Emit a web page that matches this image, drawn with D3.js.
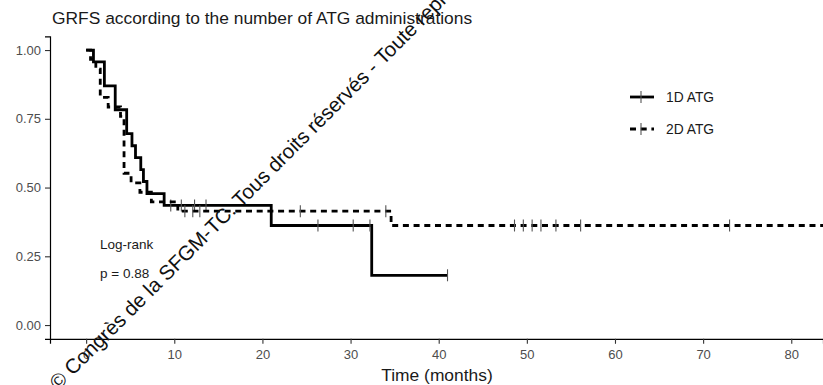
<!DOCTYPE html>
<html>
<head>
<meta charset="utf-8">
<script src="https://cdnjs.cloudflare.com/ajax/libs/d3/7.8.5/d3.min.js"></script>
<style>
  body { margin: 0; background: #fff; }
  svg text { font-family: "Liberation Sans", Arial, sans-serif; }
</style>
</head>
<body>
<div id="grafico"></div>
<script>
// values
const grupos = ["1D ATG", "2D ATG"];

const tiempo1D = [0, 0.83, 2.07, 3.3, 4.6, 5.2, 5.6, 6.2, 6.5, 6.9, 8.85, 21.0, 32.4, 41.0];
const surv1D   = [1, 0.957, 0.870, 0.783, 0.696, 0.652, 0.609, 0.565, 0.522, 0.478, 0.435, 0.362, 0.181, 0.181];
const censura1D = [9.6, 10.8, 12.3, 13.6, 26.3, 30.3, 32.2, 41.0];

const tiempo2D = [0, 0.5, 1.1, 1.6, 2.5, 3.9, 4.3, 5.1, 6.1, 7.4, 10.4, 34.6, 86];
const surv2D   = [1, 0.966, 0.931, 0.828, 0.793, 0.759, 0.552, 0.517, 0.483, 0.448, 0.414, 0.362, 0.362];
const censura2D = [11.2, 12.1, 12.9, 24.3, 34.0, 48.6, 49.6, 50.6, 51.6, 53.3, 56.1, 73.0];

const ticksX = [0, 10, 20, 30, 40, 50, 60, 70, 80];
const ticksY = [0, 0.25, 0.5, 0.75, 1];

const titulo = "GRFS according to the number of ATG administrations";
const tituloX = "Time (months)";
const textoLogRank = ["Log-rank", "p = 0.88"];
const marcaAgua = "© Congrès de la SFGM-TC. Tous droits réservés - Toute reproduction interdite";

const width = 823, height = 385;

const svg = d3.select("#grafico")
    .append("svg")
    .attr("width", width)
    .attr("height", height);

const x = d3.scaleLinear().domain([-4.1, 83.6]).range([50, 823]);
const y = d3.scaleLinear().domain([-0.05, 1.05]).range([338.8, 36.3]);

// axes
const ejeX = svg.append("g")
    .attr("transform", `translate(0, ${y.range()[0]})`)
    .call(d3.axisBottom(x).tickValues(ticksX).tickFormat(d3.format("d")).tickSizeOuter(0).tickSize(5).tickPadding(6));
const ejeY = svg.append("g")
    .attr("transform", `translate(${x.range()[0]}, 0)`)
    .call(d3.axisLeft(y).tickValues(ticksY).tickFormat(d3.format(".2f")).tickSizeOuter(0).tickSize(5).tickPadding(4));

[ejeX, ejeY].forEach(g => {
    g.select(".domain").attr("stroke", "#000").attr("stroke-width", 1.2);
    g.selectAll(".tick line").attr("stroke", "#333").attr("stroke-width", 1.1);
    g.selectAll(".tick text").attr("fill", "#4d4d4d").attr("font-size", "13px");
});

const datos = [
    { grupo: grupos[0], t: tiempo1D, s: surv1D, c: censura1D, dash: null },
    { grupo: grupos[1], t: tiempo2D, s: surv2D, c: censura2D, dash: "6,4.7" }
];

const linea = d3.line()
    .x(d => x(d[0]))
    .y(d => y(d[1]))
    .curve(d3.curveStepAfter);

svg.append("clipPath").attr("id", "panel")
    .append("rect").attr("x", 50).attr("y", 30).attr("width", 773).attr("height", 310);

const panel = svg.append("g").attr("clip-path", "url(#panel)");

datos.forEach(g => {
    const pares = g.t.map((t, i) => [t, g.s[i]]);
    panel.append("path")
        .attr("d", linea(pares))
        .attr("fill", "none")
        .attr("stroke", "#000")
        .attr("stroke-width", 2.8)
        .attr("stroke-dasharray", g.dash);

    const bis = d3.bisector(d => d).right;
    g.c.forEach(tc => {
        const sv = g.s[Math.max(0, bis(g.t, tc) - 1)];
        panel.append("line")
            .attr("x1", x(tc)).attr("x2", x(tc))
            .attr("y1", y(sv) - 6).attr("y2", y(sv) + 6)
            .attr("stroke", "#555")
            .attr("stroke-width", 1.1);
    });
});

// legend
const leyenda = svg.append("g");
datos.forEach((g, i) => {
    const yy = 97 + i * 32;
    leyenda.append("line")
        .attr("x1", 630).attr("x2", 654).attr("y1", yy).attr("y2", yy)
        .attr("stroke", "#000").attr("stroke-width", 2.8)
        .attr("stroke-dasharray", g.dash);
    leyenda.append("line")
        .attr("x1", 641).attr("x2", 641).attr("y1", yy - 6).attr("y2", yy + 6)
        .attr("stroke", "#555").attr("stroke-width", 1.1);
    leyenda.append("text")
        .attr("x", 666).attr("y", yy + 5)
        .attr("font-size", "13.8px")
        .attr("fill", "#1a1a1a")
        .text(g.grupo);
});

// log-rank
textoLogRank.forEach((t, i) => {
    svg.append("text")
        .attr("x", 100).attr("y", 249 + i * 29)
        .attr("font-size", "13.5px")
        .attr("fill", "#1a1a1a")
        .text(t);
});

// titles
svg.append("text")
    .attr("x", 52).attr("y", 24)
    .attr("font-size", "17.4px")
    .attr("fill", "#1a1a1a")
    .text(titulo);

svg.append("text")
    .attr("x", 437).attr("y", 381)
    .attr("text-anchor", "middle")
    .attr("font-size", "17.4px")
    .attr("fill", "#1a1a1a")
    .text(tituloX);

// watermark
svg.append("text")
    .attr("transform", "translate(58, 391) rotate(-45)")
    .attr("font-size", "20.5px")
    .attr("fill", "#111")
    .text(marcaAgua);
</script>
</body>
</html>
